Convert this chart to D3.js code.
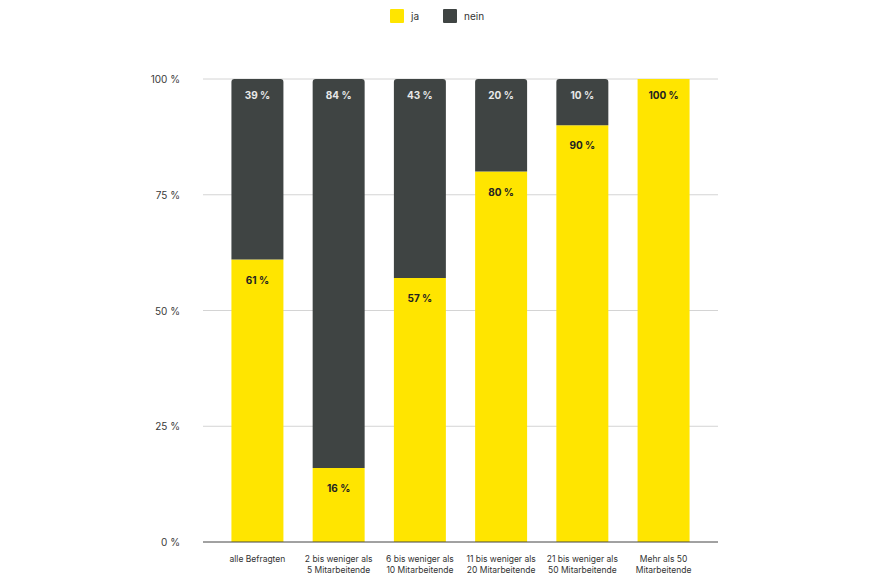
<!DOCTYPE html>
<html>
<head>
<meta charset="utf-8">
<script src="https://cdn.jsdelivr.net/npm/d3@7"></script>
<style>
  body { margin: 0; background: #fff; }
  svg { display: block; font-family: Inter, "Noto Sans", sans-serif; }
</style>
</head>
<body>
<svg id="chart" width="872" height="581"></svg>
<script>
const categories = [
  ['alle Befragten'],
  ['2 bis weniger als', '5 Mitarbeitende'],
  ['6 bis weniger als', '10 Mitarbeitende'],
  ['11 bis weniger als', '20 Mitarbeitende'],
  ['21 bis weniger als', '50 Mitarbeitende'],
  ['Mehr als 50', 'Mitarbeitende']
];
const jaValues = [61, 16, 57, 80, 90, 100];
const neinValues = [39, 84, 43, 20, 10, 0];
const yTicks = [0, 25, 50, 75, 100];
const seriesNames = ['ja', 'nein'];
const colors = { ja: '#ffe500', nein: '#3f4443' };

const svg = d3.select('#chart');
const plotLeft = 203, plotRight = 718, plotTop = 79, plotBottom = 542;

const x = d3.scaleBand()
  .domain(d3.range(categories.length))
  .range([plotLeft, plotRight])
  .paddingInner(0.36)
  .paddingOuter(0.35);

const y = d3.scaleLinear().domain([0, 100]).range([plotBottom, plotTop]);

// gridlines
svg.append('g')
  .selectAll('line')
  .data(yTicks.filter(d => d > 0))
  .join('line')
  .attr('x1', plotLeft).attr('x2', plotRight)
  .attr('y1', d => y(d)).attr('y2', d => y(d))
  .attr('stroke', '#d4d4d4')
  .attr('stroke-width', 1);

// y axis labels
svg.append('g')
  .selectAll('text')
  .data(yTicks)
  .join('text')
  .attr('x', 180)
  .attr('y', d => y(d) + 4)
  .attr('text-anchor', 'end')
  .attr('font-size', 10)
  .attr('fill', '#3a3a3a')
  .text(d => d + ' %');

const rows = categories.map((c, i) => ({ i, ja: jaValues[i], nein: neinValues[i] }));
const stacked = d3.stack().keys(seriesNames)(rows);

const r = 3;
function segPath(x0, w, yTop, yBot, rounded) {
  if (!rounded) return `M${x0},${yBot}V${yTop}H${x0 + w}V${yBot}Z`;
  return `M${x0},${yBot}V${yTop + r}Q${x0},${yTop} ${x0 + r},${yTop}H${x0 + w - r}Q${x0 + w},${yTop} ${x0 + w},${yTop + r}V${yBot}Z`;
}

stacked.forEach(series => {
  const key = series.key;
  svg.append('g')
    .selectAll('path')
    .data(series.filter(d => d[1] - d[0] > 0))
    .join('path')
    .attr('fill', colors[key])
    .attr('d', d => {
      const isTop = d[1] >= 100;
      return segPath(x(d.data.i), x.bandwidth(), y(d[1]), y(d[0]), isTop && key === 'nein');
    });

  svg.append('g')
    .selectAll('text')
    .data(series.filter(d => d[1] - d[0] > 0))
    .join('text')
    .attr('x', d => x(d.data.i) + x.bandwidth() / 2)
    .attr('y', d => y(d[1]) + (d[1] >= 100 ? 20 : 24))
    .attr('text-anchor', 'middle')
    .attr('font-size', 10)
    .attr('font-weight', 700)
    .attr('fill', key === 'nein' ? '#e8e8e8' : '#222')
    .text(d => (d[1] - d[0]) + ' %');
});

// baseline
svg.append('line')
  .attr('x1', plotLeft).attr('x2', plotRight)
  .attr('y1', plotBottom).attr('y2', plotBottom)
  .attr('stroke', '#444')
  .attr('stroke-width', 1);

// category labels
const cat = svg.append('g')
  .selectAll('text')
  .data(categories)
  .join('text')
  .attr('x', (d, i) => x(i) + x.bandwidth() / 2)
  .attr('y', 562)
  .attr('text-anchor', 'middle')
  .attr('font-size', 8.5)
  .attr('fill', '#333');
cat.selectAll('tspan')
  .data(d => d)
  .join('tspan')
  .attr('x', function () { return d3.select(this.parentNode).attr('x'); })
  .attr('dy', (d, j) => j === 0 ? 0 : 10.5)
  .text(d => d);

// legend
const legend = svg.append('g');
const legendX = [390, 443];
seriesNames.forEach((name, i) => {
  legend.append('rect')
    .attr('x', legendX[i]).attr('y', 9)
    .attr('width', 14).attr('height', 14)
    .attr('rx', 1)
    .attr('fill', colors[name]);
  legend.append('text')
    .attr('x', legendX[i] + 21).attr('y', 20)
    .attr('font-size', 10)
    .attr('fill', '#333')
    .text(name);
});
</script>
</body>
</html>
